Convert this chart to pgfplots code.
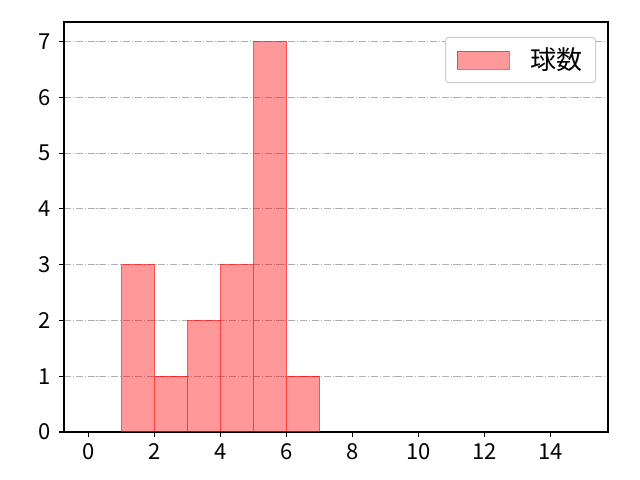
\documentclass[border=0pt]{standalone}
\usepackage{pgfplots}
\pgfplotsset{compat=1.18}
\usepackage{fontspec}
\setmainfont{Noto Sans CJK JP}
\begin{document}
\fontsize{22pt}{26pt}\selectfont
\begin{tikzpicture}
\begin{axis}[
  scale only axis,
  width=544pt, height=410pt,
  xmin=-0.75, xmax=15.75, ymin=0, ymax=7.35,
  xtick={0,2,...,14}, ytick={0,1,...,7},
  tick align=outside, tick pos=left,
  major tick length=4.9pt,
  every tick/.style={black, line width=1.1pt},
  axis line style={line width=1.1pt},
  /pgf/number format/assume math mode=true,
  ticklabel style={font=\fontsize{22pt}{26pt}\selectfont},
  yticklabel style={xshift=-1pt},
  xticklabel style={yshift=1pt},
  ymajorgrids,
  grid style={color=black!31, line width=1.1pt, dash pattern=on 7.1pt off 1.8pt on 1.1pt off 1.8pt},
  legend style={at={(1,1)}, xshift=-12pt, yshift=-15pt, anchor=north east, draw=black!20, rounded corners=3pt, line width=1pt,
    font=\fontsize{26pt}{30pt}\selectfont, inner xsep=11pt, inner ysep=8pt},
  legend cell align=left,
  legend image code/.code={\draw[#1, sharp corners] (0pt,-9pt) rectangle (52pt,9pt);},
  clip=false,
]
\addplot[ybar interval, fill=red, fill opacity=0.4, draw=red, draw opacity=0.6, line width=1pt]
  coordinates {(1,3) (2,1) (3,2) (4,3) (5,7) (6,1) (7,1)};
\addlegendentry{\hspace{19pt}球数\hspace{5pt}}
\path (rel axis cs:0,0) ++(-64pt,-48pt) coordinate (bl);
\path (rel axis cs:1,1) ++(32pt,22pt) coordinate (tr);
\useasboundingbox (bl) rectangle (tr);
\end{axis}
\end{tikzpicture}
\end{document}
